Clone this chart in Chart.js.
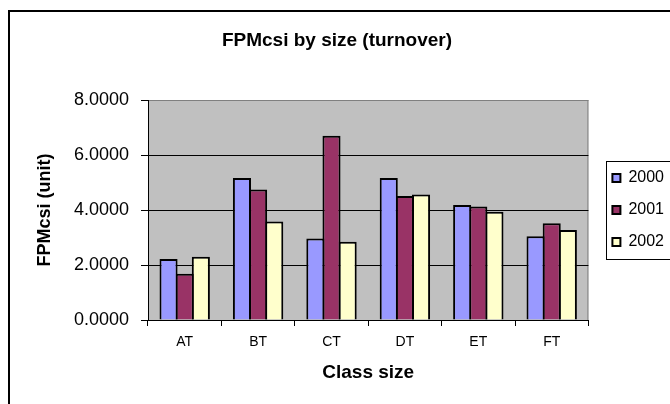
<!DOCTYPE html>
<html>
<head>
<meta charset="utf-8">
<script src="https://cdn.jsdelivr.net/npm/chart.js@4/dist/chart.umd.min.js"></script>
<style>
  html, body { margin: 0; padding: 0; background: #fff; overflow: hidden; }
  #wrap { position: relative; width: 700px; height: 404px; }
</style>
</head>
<body>
<div id="wrap"><canvas id="chart" width="700" height="404"></canvas></div>
<script>
// values
const categories = ['AT', 'BT', 'CT', 'DT', 'ET', 'FT'];
const seriesNames = ['2000', '2001', '2002'];
const values2000 = [2.22, 5.16, 2.96, 5.16, 4.18, 3.05];
const values2001 = [1.68, 4.75, 6.70, 4.51, 4.13, 3.52];
const values2002 = [2.30, 3.58, 2.85, 4.56, 3.94, 3.27];
const yTicks = [0, 2, 4, 6, 8];

const seriesValues = [values2000, values2001, values2002];
const seriesColors = ['#9999FF', '#993366', '#FFFFCC'];
const FONT = "'Liberation Sans', Arial, sans-serif";

// outer frame, grey plot area and the box round the legend
const backdrop = {
  id: 'backdrop',
  beforeDraw(chart) {
    const { ctx, chartArea: a } = chart;
    ctx.save();
    ctx.fillStyle = '#fff';
    ctx.fillRect(0, 0, chart.width, chart.height);
    ctx.strokeStyle = '#000';
    ctx.lineWidth = 2;
    ctx.strokeRect(9, 11, chart.width + 20, chart.height + 20);
    ctx.fillStyle = '#C0C0C0';
    ctx.fillRect(a.left, a.top, a.right - a.left, a.bottom - a.top);
    ctx.strokeStyle = '#808080';
    ctx.lineWidth = 1;
    ctx.strokeRect(a.left + 0.5, a.top + 0.5, a.right - a.left - 1, a.bottom - a.top);
    ctx.restore();
  },
  afterDraw(chart) {
    const boxes = chart.legend && chart.legend.legendHitBoxes;
    if (!boxes || !boxes.length) return;
    const first = boxes[0];
    const last = boxes[boxes.length - 1];
    const ctx = chart.ctx;
    ctx.save();
    ctx.strokeStyle = '#000';
    ctx.lineWidth = 1;
    ctx.strokeRect(Math.round(first.left - 6) + 0.5, Math.round(first.top - 9) + 0.5, 200,
      Math.round(last.top + last.height - first.top + 18));
    ctx.restore();
  }
};

new Chart(document.getElementById('chart'), {
  type: 'bar',
  data: {
    labels: categories,
    datasets: seriesNames.map((name, i) => ({
      label: name,
      data: seriesValues[i],
      backgroundColor: seriesColors[i],
      borderColor: '#000',
      borderWidth: 2,
      // bars a touch wider than their slot so neighbours share one outline
      barPercentage: 1.12,
      categoryPercentage: 0.66,
      yAxisID: 'y',
    })),
  },
  options: {
    responsive: false,
    animation: false,
    devicePixelRatio: 1,
    events: [],
    layout: { padding: { left: 0, right: 26, top: 0, bottom: 0 } },
    scales: {
      x: {
        grid: { display: true, drawOnChartArea: false, drawTicks: true, tickLength: 6, tickColor: '#000', offset: true },
        border: { display: true, color: '#000', width: 1 },
        ticks: { color: '#000', font: { family: FONT, size: 14 }, padding: 8, maxRotation: 0 },
        title: {
          display: true,
          text: 'Class size',
          color: '#000',
          font: { family: FONT, size: 19, weight: 'bold' },
          padding: { top: 0, bottom: 20 },
        },
        afterFit(s) { s.height = 84; },
      },
      y: {
        min: 0,
        max: 8,
        afterBuildTicks(s) { s.ticks = yTicks.map(v => ({ value: v })); },
        ticks: {
          color: '#000',
          font: { family: FONT, size: 18 },
          padding: 12,
          callback: v => Number(v).toFixed(4),
        },
        grid: {
          color: c => (c.tick && c.tick.value === 8 ? '#808080' : '#000'),
          tickColor: '#000',
          tickLength: 7,
          lineWidth: 1,
        },
        border: { display: true, color: '#000', width: 1 },
        title: {
          display: true,
          text: 'FPMcsi (unit)',
          color: '#000',
          font: { family: FONT, size: 18, weight: 'bold' },
          padding: { top: 34, bottom: 0 },
        },
        afterFit(s) { s.width = 148; },
      },
      gap: {
        type: 'linear',
        position: 'right',
        display: true,
        grid: { display: false },
        ticks: { display: false },
        border: { display: false },
        afterFit(s) { s.width = 8; },
      },
    },
    plugins: {
      title: {
        display: true,
        text: 'FPMcsi by size (turnover)',
        color: '#000',
        font: { family: FONT, size: 19, weight: 'bold' },
        padding: { top: 29, bottom: 48.2 },
      },
      legend: {
        position: 'right',
        align: 'center',
        fullSize: false,
        labels: {
          boxWidth: 8,
          boxHeight: 8,
          padding: 16,
          color: '#000',
          font: { family: FONT, size: 16 },
        },
      },
      tooltip: { enabled: false },
    },
  },
  plugins: [backdrop],
});
</script>
</body>
</html>
